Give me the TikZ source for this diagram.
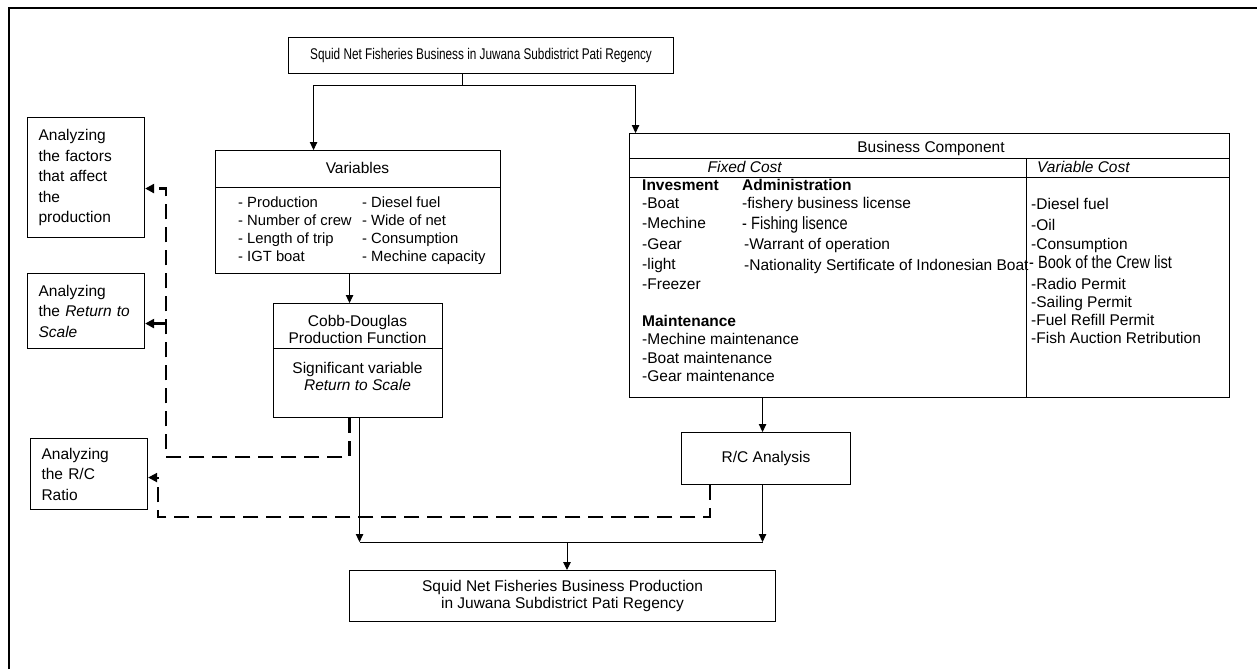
\documentclass[tikz,border=0pt]{standalone}
\usepackage{fontspec}
\setmainfont{Liberation Sans}
\newfontfamily\narrowfont{Liberation Sans}[FakeStretch=0.82]
\newfontfamily\condfont{Liberation Sans}[FakeStretch=0.76]
\usetikzlibrary{arrows.meta,positioning,calc}

\begin{document}
\begin{tikzpicture}[x=1pt,y=-1pt,
  box/.style={draw,line width=1.1pt,inner sep=0pt,anchor=north west,font=\fontsize{15.5}{17}\selectfont},
  txt/.style={inner sep=0pt,anchor=base,yshift=-5.5pt,font=\fontsize{15.5}{17}\selectfont},
  item/.style={inner sep=0pt,anchor=base west,yshift=-5.5pt,font=\fontsize{15.5}{17}\selectfont},
  vitem/.style={item,font=\fontsize{14.8}{17}\selectfont},
  narrow/.style={font=\narrowfont\fontsize{17.8}{20}\selectfont},
  side/.style={draw,line width=1.1pt,anchor=north west,align=left,text width=95pt,
    inner xsep=11pt,inner ysep=0pt,font=\fontsize{15.5}{20.5}\selectfont},
  link/.style={line width=1pt},
  arr/.style={line width=1pt,-{Triangle[length=8pt,width=7.5pt]}},
  dasharr/.style={line width=2.4pt,dash pattern=on 15pt off 8pt,-{Triangle[length=9pt,width=9pt]}},
]
\useasboundingbox (0,0) rectangle (1257,669);
% page frame
\draw[line width=1.8pt] (9,669) -- (9,8) -- (1257,8);

% top and bottom boxes
\node[box,minimum width=385pt,minimum height=36pt,font=\condfont\fontsize{15.5}{17}\selectfont] (top) at (288,37)
  {Squid Net Fisheries Business in Juwana Subdistrict Pati Regency};
\node[box,minimum width=426pt,minimum height=51pt,align=center] (prod) at (349,570)
  {Squid Net Fisheries Business Production\\in Juwana Subdistrict Pati Regency};

% variables
\node[box,minimum width=285pt,minimum height=123pt] (vars) at (215,150) {};
\node[txt] (varst) at (357.5,168) {Variables};
\draw[link] ([yshift=-37pt]vars.north west) -- ([yshift=-37pt]vars.north east);
\foreach \t [count=\i] in {Production,Number of crew,Length of trip,IGT boat}
  \node[vitem] (varl\i) at (238,184+18*\i) {- \t};
\foreach \t [count=\i] in {Diesel fuel,Wide of net,Consumption,Mechine capacity}
  \node[vitem] (varr\i) at (362,184+18*\i) {- \t};

% cobb-douglas
\node[box,minimum width=169pt,minimum height=114pt] (cobb) at (273,303) {};
\node[txt] (cobbt1) at (357.5,321) {Cobb-Douglas};
\node[txt] (cobbt2) at (357.5,338) {Production Function};
\draw[link] ([yshift=-45pt]cobb.north west) -- ([yshift=-45pt]cobb.north east);
\node[txt] (sig1) at (357.5,368) {Significant variable};
\node[txt] (sig2) at (357.5,385) {\textit{Return to Scale}};

% business component
\node[box,minimum width=600pt,minimum height=264pt] (bus) at (629,133) {};
\node[txt] (bust) at (931,147) {Business Component};
\draw[link] ([yshift=-25pt]bus.north west) -- ([yshift=-25pt]bus.north east);
\draw[link] ([yshift=-44pt]bus.north west) -- ([yshift=-44pt]bus.north east);
\draw[link] ([xshift=397pt,yshift=-25pt]bus.north west) -- ([xshift=397pt]bus.south west);
\node[txt] (fixt) at (745,167) {\textit{Fixed Cost}};
\node[item] (vart) at (1037,167) {\textit{Variable Cost}};
\node[item] (invh) at (642,185) {\textbf{Invesment}};
\node[item] (admh) at (742,185) {\textbf{Administration}};
\foreach \t [count=\i] in {Boat,Mechine,Gear,light,Freezer}
  \node[item] (inv\i) at (642,182.75+20.25*\i) {-\t};
\node[item] (adm1) at (742,203) {-fishery business license};
\node[item,narrow] (adm2) at (742,224) {- Fishing lisence};
\node[item] (adm3) at (744,244) {-Warrant of operation};
\node[item] (adm4) at (744,265) {-Nationality Sertificate of Indonesian Boat};
\node[item] (mnth) at (642,321) {\textbf{Maintenance}};
\foreach \t [count=\i] in {Mechine,Boat,Gear}
  \node[item] (mnt\i) at (642,320.5+18.5*\i) {-\t{} maintenance};
\foreach \y/\t [count=\i] in {204/Diesel fuel,225/Oil,244/Consumption,284/Radio Permit,
    302/Sailing Permit,320/Fuel Refill Permit,338/Fish Auction Retribution}
  \node[item] (vc\i) at (1031,\y) {-\t};
\node[item,narrow] (crew) at (1029,263) {- Book of the Crew list};

% r/c analysis
\node[box,minimum width=169pt,minimum height=52pt] (rc) at (681,432) {R/C Analysis};

% analysis boxes on the left
\node[side,minimum height=120pt] (fac) at (27,117) {Analyzing\\the factors\\that affect\\the\\production};
\node[side,minimum height=75pt] (rts) at (27,273) {Analyzing\\the \textit{Return~to}\\\textit{Scale}};
\node[side,minimum height=71pt] (rcr) at (30,438) {Analyzing\\the R/C\\Ratio};

% connectors
\coordinate (split) at (462,85);
\draw[link] (split |- top.south) -- (split);
\draw[arr] (split) -| ([xshift=-44.5pt]vars.north);
\draw[arr] (split) -| ([xshift=-294pt]bus.north);
\draw[arr] ([xshift=-8.5pt]vars.south) -- ([xshift=-8.5pt]cobb.north);
\draw[arr] ([xshift=-167pt]bus.south) -- ([xshift=-3.5pt]rc.north);

\coordinate (dashA) at (166,457);
\coordinate (dashB) at (158,517);
\coordinate (rtsin) at ([yshift=-12.5pt]rts.east);
\draw[dasharr] ([xshift=-8.5pt]cobb.south) |- (dashA) |- ([yshift=-11pt]fac.east);
\draw[dasharr] (dashA |- rtsin) -- (rtsin);
\draw[dasharr,line width=2pt] ([xshift=-56.5pt]rc.south) |- (dashB) |- ([yshift=-3.5pt]rcr.east);

\coordinate (merge) at (567,542);
\coordinate (cobbout) at ([xshift=1.5pt]cobb.south);
\coordinate (rcout) at ([xshift=-3.5pt]rc.south);
\draw[arr] (cobbout) -- (cobbout |- merge);
\draw[arr] (rcout) -- (rcout |- merge);
\draw[link] (cobbout |- merge) -- (rcout |- merge);
\draw[arr] (merge) -- (merge |- prod.north);
\end{tikzpicture}
\end{document}
